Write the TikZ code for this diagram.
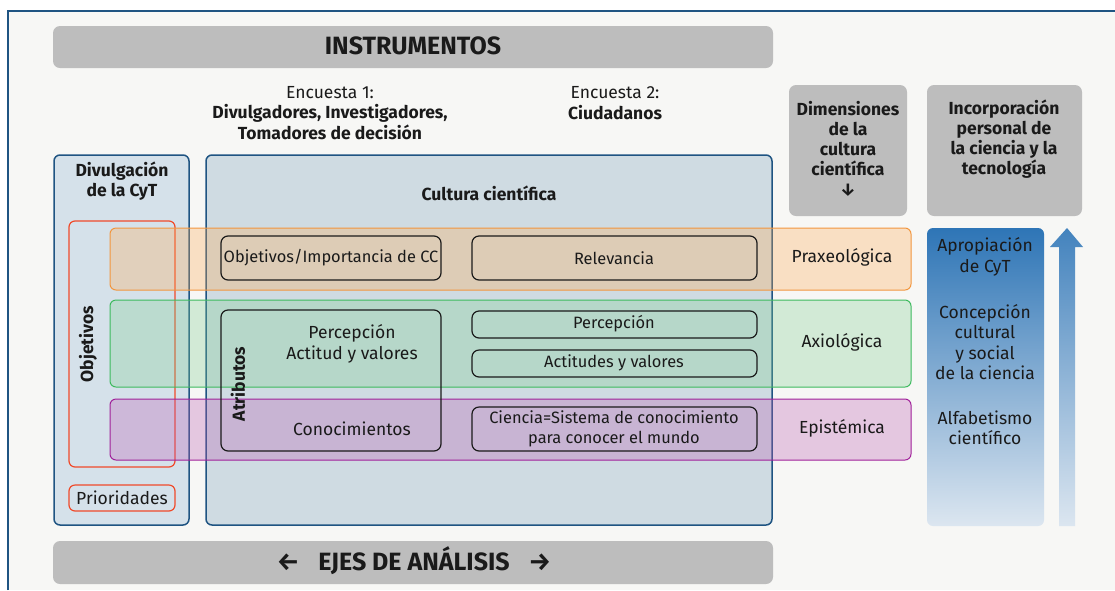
\documentclass[tikz,border=0pt]{standalone}
\usepackage{fontspec}
\setmainfont{Fira Sans}
\usetikzlibrary{positioning}

\definecolor{pagebg}{RGB}{247,247,245}
\definecolor{frameblue}{RGB}{31,84,130}
\definecolor{bargray}{RGB}{189,189,189}
\definecolor{divfill}{RGB}{213,225,234}
\definecolor{cultfill}{RGB}{207,219,226}
\definecolor{objred}{RGB}{240,74,42}
\definecolor{praxline}{RGB}{242,150,62}
\definecolor{praxfill}{RGB}{255,170,82}
\definecolor{axioline}{RGB}{61,186,94}
\definecolor{axiofill}{RGB}{127,207,145}
\definecolor{epiline}{RGB}{160,32,154}
\definecolor{epifill}{RGB}{187,90,178}
\definecolor{inkdark}{RGB}{26,26,26}
\definecolor{blueTop}{RGB}{46,117,182}
\definecolor{blueBot}{RGB}{220,230,240}

\begin{document}
\begin{tikzpicture}[x=1pt, y=-1pt,
  every node/.style={text=inkdark, font=\fontsize{17.5}{20.5}\selectfont, align=center, inner sep=0pt},
  bar/.style={fill=bargray, rounded corners=7pt},
  graybox/.style={fill=bargray, rounded corners=7pt},
  colbox/.style={draw=frameblue, line width=1.5pt, rounded corners=6pt},
  redbox/.style={draw=objred, line width=1.2pt, rounded corners=6pt},
  band/.style={fill opacity=0.3, rounded corners=6pt},
  inbox/.style={draw=inkdark, line width=1.2pt, rounded corners=7pt},
  boxtext/.style={font=\fontsize{16.4}{20}\selectfont},
  head/.style={font=\bfseries\fontsize{17.5}{20}\selectfont},
  title/.style={font=\bfseries\fontsize{25}{28}\selectfont}]

  % page frame
  \useasboundingbox (0,0) rectangle (1115,590);
  \fill[pagebg] (8,11) rectangle (1115,590);
  \draw[frameblue, line width=2pt] (8,590) -- (8,11) -- (1115,11);

  % top and bottom bars
  \fill[bar] (53,26) rectangle (773,68);
  \node[title] (instr) at (413,46) {INSTRUMENTOS};
  \fill[bar] (53,541) rectangle (773,584);
  \node[title] (ejes) at (414,561) {←\hspace{19pt}EJES DE ANÁLISIS\hspace{19pt}→};

  % surveys
  \node (enc1) at (330,113) {Encuesta 1:\\\textbf{Divulgadores, Investigadores,}\\\textbf{Tomadores de decisión}};
  \node (enc2) at (615,103) {Encuesta 2:\\\textbf{Ciudadanos}};

  % right headers
  \fill[graybox] (789,85) rectangle (907,216);
  \node[head] (dim) at (848,149) {Dimensiones\\de la\\cultura\\científica\\↓};
  \fill[graybox] (927,85) rectangle (1082,216);
  \node[head] (inc) at (1004,139) {Incorporación\\personal de\\la ciencia y la\\tecnología};

  % main columns
  \filldraw[colbox, fill=divfill] (54,155) rectangle (189,525);
  \node[head] (divul) at (122,181) {Divulgación\\de la CyT};
  \filldraw[colbox, fill=cultfill] (206,155) rectangle (772,525);
  \node[head] (cult) at (489,193) {Cultura científica};

  % objetivos / prioridades
  \draw[redbox] (69,221) rectangle (175,467);
  \node[head, rotate=90] (obj) at (88,344) {Objetivos};
  \draw[redbox] (69,485) rectangle (175,511);
  \node (prio) at (122,498) {Prioridades};

  % dimension bands
  \fill[band, fill=praxfill] (110,228) rectangle (911,290);
  \fill[band, fill=axiofill] (110,300) rectangle (911,387);
  \fill[band, fill=epifill] (110,399) rectangle (911,460);
  \draw[praxline, line width=1pt, rounded corners=6pt] (110,228) rectangle (911,290);
  \draw[axioline, line width=1pt, rounded corners=6pt] (110,300) rectangle (911,387);
  \draw[epiline, line width=1pt, rounded corners=6pt] (110,399) rectangle (911,460);
  \node (prax) at (842,257) {Praxeológica};
  \node (axio) at (842,342) {Axiológica};
  \node (epis) at (842,428) {Epistémica};

  % inner boxes
  \draw[inbox] (221,236) rectangle (441,280);
  \node[boxtext] (impo) at (331,258) {Objetivos/Importancia de CC};
  \draw[inbox] (472,236) rectangle (757,280);
  \node[boxtext] (rele) at (614,258) {Relevancia};
  \draw[inbox] (221,310) rectangle (441,451);
  \node[head, rotate=90] (atri) at (238,384) {Atributos};
  \node (perc) at (352,344) {Percepción\\Actitud y valores};
  \node (cono) at (352,429) {Conocimientos};
  \draw[inbox] (472,311) rectangle (757,338);
  \node[boxtext] (perc2) at (614,324) {Percepción};
  \draw[inbox] (472,350) rectangle (757,377);
  \node[boxtext] (acti) at (614,363) {Actitudes y valores};
  \draw[inbox] (472,407) rectangle (757,451);
  \node[boxtext] (cien) at (614,429) {Ciencia=Sistema de conocimiento\\para conocer el mundo};

  % incorporation scale
  \shade[top color=blueTop, bottom color=blueBot, rounded corners=6pt] (927,228) rectangle (1044,526);
  \shade[top color=blueTop!90, bottom color=blueBot]
    (1059,526) -- (1059,247) -- (1050,247) -- (1067,228) -- (1083,247) -- (1075,247) -- (1075,526) -- cycle;
  \node (apro) at (985,257) {Apropiación\\de CyT};
  \node (conc) at (985,342) {Concepción\\cultural\\y social\\de la ciencia};
  \node (alfa) at (985,428) {Alfabetismo\\científico};
\end{tikzpicture}
\end{document}
